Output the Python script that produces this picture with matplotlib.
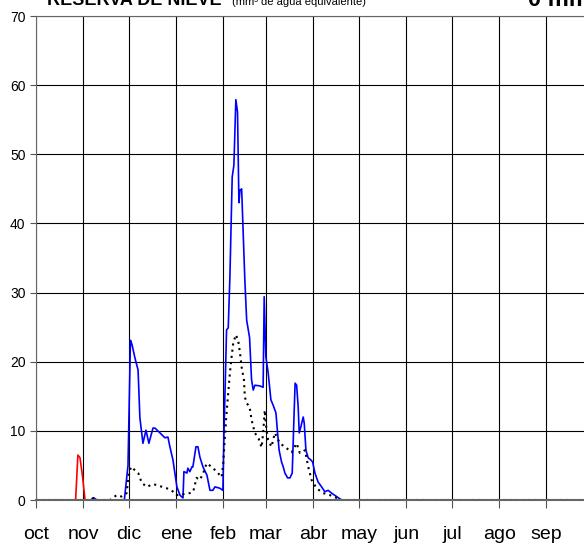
import numpy as np
import matplotlib.pyplot as plt

plt.rcParams['font.family'] = ['Liberation Sans', 'DejaVu Sans']

# dias del año hidrologico (1 oct = 0)
meses = ['oct', 'nov', 'dic', 'ene', 'feb', 'mar', 'abr', 'may', 'jun', 'jul', 'ago', 'sep']
inicio_mes = [0, 31, 61, 92, 123, 151, 182, 212, 243, 273, 304, 335]

# serie del año anterior (rojo)
dia_rojo = [0, 26, 27.5, 28.9, 30.6, 32.2]
val_rojo = [0, 0, 6.5, 6.1, 3.3, 0]

# serie actual (azul)
dia_azul = [32, 36, 38, 40, 58, 60.4, 62, 63, 65, 67, 68.2, 70.2, 72.2, 74.1, 76.8, 78.1,
            81.4, 84.6, 86.6, 87.9, 89.9, 92.5, 94.5, 96.5, 97.1, 99.1, 99.7, 101, 102.4,
            103, 105, 106.3, 107.6, 109.6, 112.2, 114.2, 116.1, 117.5, 120.7, 122.7, 123.4,
            125.1, 126.2, 127.3, 128.8, 129.9, 131.2, 132.3, 133.2, 133.9, 135, 137.1, 138.3,
            140.2, 141.5, 142.6, 143.7, 147, 149.1, 149.8, 150.9, 152.4, 154.2, 155.7, 157.5,
            158.6, 159.6, 161.2, 162.3, 163.4, 165.2, 166.7, 168.2, 169.3, 170.1, 171.1, 172.1,
            172.8, 173.9, 175.4, 176.1, 177.2, 178.7, 180.4, 181.6, 183.1, 185.2, 187.5, 189.6,
            191.8, 194, 197.3, 200.6, 365]
val_azul = [0, 0, 0.3, 0, 0, 5, 23.1, 22.5, 20.5, 18.8, 11.9, 8.2, 10.1, 8.2, 10.4, 10.4,
            9.7, 9.0, 9.1, 7.7, 5.8, 1.9, 0.7, 0.3, 4.1, 3.9, 4.6, 4.1, 4.8,
            4.8, 7.7, 7.7, 6.2, 4.8, 3.6, 1.4, 1.4, 1.9, 1.7, 1.4, 9.7,
            24.6, 24.9, 32.3, 46.7, 48.4, 57.9, 56.1, 43.0, 44.8, 45.0, 31.8, 26.0,
            23.5, 17.4, 15.9, 16.6, 16.5, 16.3, 29.4, 20.7, 18.4, 14.5, 13.7, 12.6,
            9.7, 7.2, 5.5, 4.8, 3.9, 3.2, 3.2, 3.9, 11.6, 16.9, 16.6, 13.5,
            9.7, 10.6, 12.0, 11.1, 7.2, 6.1, 5.8, 5.5, 3.9, 2.6, 1.9, 1.2,
            1.4, 1.0, 0.5, 0, 0]

# media historica (negro punteado)
dia_media = [0, 36, 37.6, 39, 48.6, 52.9, 56.2, 59.5, 60.6, 62.3, 65, 67.1, 69.4, 72.6, 77,
             81.4, 85.8, 89, 92.3, 97.8, 101, 103.2, 104.3, 105.4, 107.6, 109.8, 112, 115.3,
             118.6, 121.9, 122.9, 124, 125.1, 126.2, 127.3, 128.4, 129.5, 131.2, 132.7, 133.9,
             135, 136.5, 137.1, 138.3, 140.2, 141.5, 143.7, 146.1, 148.1, 149.1, 150.2, 151.3,
             152.4, 154.6, 156.8, 160.1, 164.5, 167.8, 171.1, 173.2, 176.6, 178.7, 180.9,
             184.2, 188.5, 193, 197.3, 200.6, 365]
val_media = [0, 0, 0.3, 0, 0, 0.7, 0.5, 1.0, 3.3, 4.8, 4.3, 3.9, 2.5, 1.9, 2.3,
             2.0, 1.7, 1.4, 0.7, 0.9, 1.0, 1.2, 2.2, 3.2, 2.9, 3.9, 5.3, 4.8,
             4.1, 3.3, 5.3, 9.1, 12.6, 15.5, 18.4, 20.7, 22.7, 23.9, 23.1, 21.3,
             19.2, 17.4, 14.9, 14.0, 13.5, 11.6, 9.7, 8.9, 7.6, 9.7, 13.0, 10.1,
             8.7, 7.7, 9.7, 8.2, 7.5, 6.9, 8.2, 6.8, 7.2, 4.8, 2.9,
             1.7, 1.0, 0.7, 0.3, 0, 0]

fig = plt.figure(figsize=(5.84, 5.44), dpi=100)
ax = fig.add_axes([36 / 584, 44 / 544, 556 / 584, 484 / 544])

ax.plot(dia_rojo, val_rojo, color='red', lw=1.2)
ax.plot(dia_azul, val_azul, color='#0000ff', lw=1.2)
ax.plot(dia_media, val_media, color='black', lw=1.5, ls=(0, (1, 2)))

ax.set_xlim(0, 365)
ax.set_ylim(0, 70)
ax.set_yticks(np.arange(0, 71, 10))
ax.set_xticks(inicio_mes)
ax.set_xticklabels(meses, fontsize=14)
ax.tick_params(axis='y', labelsize=10, length=4.5, color='#555555', pad=3)
ax.tick_params(axis='x', length=6, color='#555555', pad=13)
ax.grid(True, color='black', lw=0.8)
ax.set_axisbelow(True)
for s in ax.spines.values():
    s.set_color('#666666')
ax.spines['bottom'].set_linewidth(1.5)

# titulo cortado en el borde superior, como en la imagen original
fig.text(47 / 584, 1 - 5 / 544, 'RESERVA DE NIEVE', fontsize=13, fontweight='bold',
         va='baseline')
fig.text(232 / 584, 1 - 5 / 544, '(mm³ de agua equivalente)', fontsize=8, va='baseline')
fig.text(528 / 584, 1 - 6 / 544, '0 mm', fontsize=17, fontweight='bold', va='baseline')

plt.savefig('out.png', dpi=100)
